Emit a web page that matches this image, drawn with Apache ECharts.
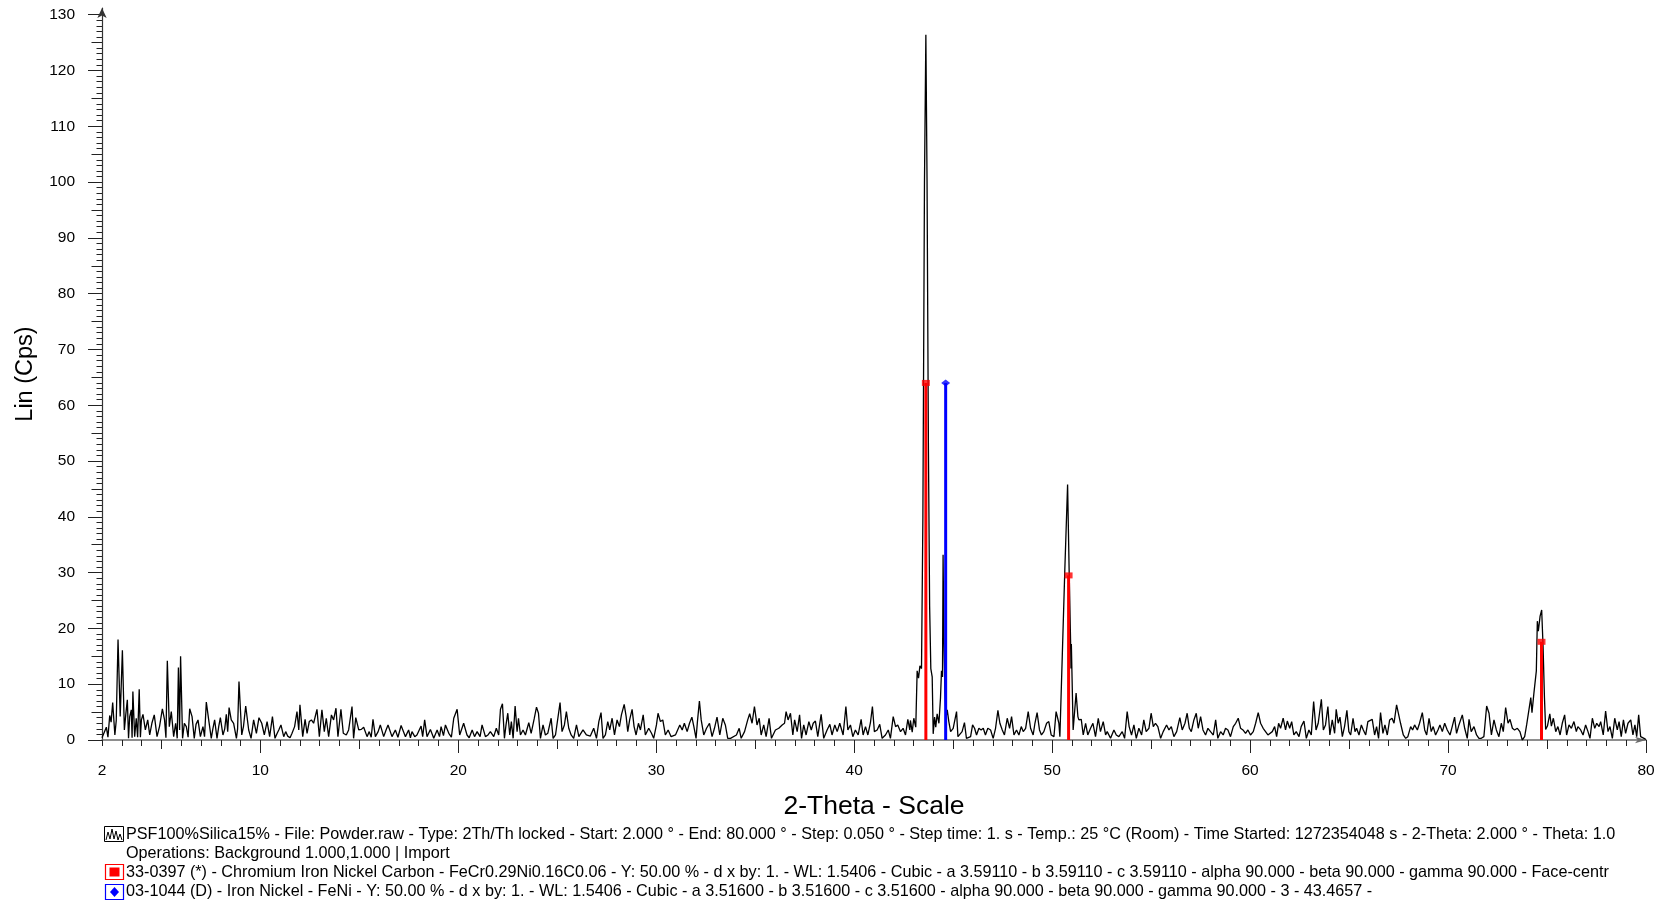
<!DOCTYPE html>
<html>
<head>
<meta charset="utf-8">
<script src="https://cdn.jsdelivr.net/npm/echarts@6/dist/echarts.min.js"></script>
<style>
    html, body, #main {
        width: 100%;
        height: 100%;
        margin: 0;
        background: #fff;
    }
</style>
</head>
<body>
<div id="main"></div>
<script>
var scanLowAngle = [
    [2.0,0.4],[2.1,0.2],[2.22,2.3],[2.3,0.5],[2.39,4.4],[2.46,3.2],[2.54,6.7],[2.65,0.9],[2.72,3.5],[2.81,18.0],
    [2.92,4.2],[3.03,16.1],[3.13,1.8],[3.2,4.5],[3.28,7.2],[3.34,0.3],[3.40,4.2],[3.48,5.4],[3.52,0.4],[3.56,8.7],
    [3.65,0.6],[3.73,3.9],[3.8,0.5],[3.88,9.1],[3.94,0.5],[3.99,3.6],[4.07,4.6],[4.19,1.8],[4.31,3.6],[4.41,0.9],
    [4.52,3.0],[4.64,4.5],[4.78,0.6],[4.91,2.5],[5.05,5.6],[5.16,3.6],[5.23,0.4],[5.30,14.2],[5.40,2.4],[5.50,5.1],
    [5.62,0.6],[5.72,3.0],[5.8,0.3],[5.86,13.0],[5.92,1.8],[5.97,15.0],[6.07,0.3],[6.16,3.0],[6.26,2.4],[6.35,0.5],
    [6.43,5.6],[6.55,4.2],[6.66,0.3],[6.75,2.8],[6.85,3.6],[6.97,0.6],[7.1,2.4],[7.18,0.6],[7.27,6.8],[7.39,3.6],
    [7.52,0.3],[7.6,2.0],[7.69,3.6],[7.81,0.3],[7.9,2.5],[7.98,4.0],[8.11,0.9],[8.2,2.0],[8.28,4.6],[8.35,1.5],
    [8.42,5.8],[8.53,3.6],[8.65,3.0],[8.79,0.3],[8.85,2.0],[8.92,10.5],[9.06,0.9],[9.15,2.5],[9.26,6.1],[9.41,1.8],
    [9.53,0.3],[9.66,3.6],[9.80,1.2],[9.93,4.0],[10.07,3.0],[10.20,0.9],[10.34,3.3],[10.47,0.6],[10.61,4.2],[10.74,0.3],
    [10.85,1.2],[10.93,1.8],[11.04,2.7],[11.18,0.6],[11.28,1.5],[11.38,0.7],[11.5,0.4],[11.6,1.2],[11.73,2.4],[11.85,5.1],
    [11.94,1.8],[12.0,6.3],[12.14,0.6],[12.26,3.7],[12.36,1.2],[12.47,3.3],[12.58,3.6],[12.69,3.0],[12.86,5.5],[12.98,0.6],
    [13.11,5.4],[13.23,1.5],[13.33,3.9],[13.45,0.6],[13.59,4.5],[13.70,3.6],[13.82,5.7],[13.92,0.6],[14.07,5.5],[14.19,1.2],
    [14.34,0.9],[14.46,1.8],[14.63,6.0],[14.71,0.3],[14.82,4.0],[14.97,1.8],[15.1,1.9],[15.22,2.3],[15.39,0.6],[15.5,1.5],
    [15.6,0.5],[15.69,3.7],[15.81,0.6],[15.95,1.5],[16.06,2.7],[16.23,0.6],[16.35,1.8],[16.45,2.7],[16.65,0.6],[16.82,1.8],
    [16.95,0.5],[17.11,2.6],[17.33,0.6],[17.49,1.8],[17.58,0.4],[17.66,1.5],[17.8,0.6],[17.91,0.9],[18.12,2.5],[18.2,0.6],
    [18.3,3.6],[18.42,0.6],[18.59,1.9],[18.76,0.3],[18.93,1.8],[19.05,0.6],[19.13,2.4],[19.25,0.8],[19.35,2.7],[19.52,1.2],
    [19.65,0.5],[19.77,3.9],[19.94,5.5],[20.07,0.9],[20.27,3.0],[20.44,0.9],[20.55,0.4],[20.7,1.8],[20.82,0.6],[20.95,1.5],
    [21.1,0.6],[21.2,2.7],[21.37,0.6],[21.5,0.9],[21.62,1.5]
];
var scanMid = [
    [21.79,0.6],[21.92,2.1],[22.04,0.9],[22.13,5.5],[22.23,6.5],[22.33,0.3],[22.41,2.7],[22.5,4.8],[22.6,0.9],[22.68,3.3],
    [22.77,0.3],[22.87,6.1],[22.97,1.5],[23.04,3.9],[23.14,0.9],[23.27,1.8],[23.39,0.9],[23.56,3.1],[23.68,1.2],[23.84,3.9],
    [23.95,5.9],[24.05,4.8],[24.15,0.3],[24.28,2.7],[24.4,0.9],[24.52,1.2],[24.69,3.9],[24.79,0.3],[24.91,0.9],[25.14,6.7],
    [25.24,1.5],[25.36,2.7],[25.46,5.1],[25.58,2.1],[25.7,0.9],[25.83,0.3],[25.97,2.7],[26.09,0.6],[26.3,1.8],[26.47,0.9],
    [26.67,0.7],[26.84,2.1],[26.98,0.3],[27.1,3.3],[27.21,4.9],[27.31,0.3],[27.43,0.9],[27.55,3.3],[27.65,1.8],[27.77,3.9],
    [27.89,0.9],[28.02,3.6],[28.14,2.4],[28.24,4.5],[28.38,6.4],[28.48,4.2],[28.56,1.5],[28.66,3.7],[28.78,5.5],[28.88,2.4],
    [28.98,0.9],[29.1,3.0],[29.2,1.8],[29.34,4.5],[29.45,0.9],[29.62,2.1],[29.76,1.2],[29.87,0.3],[30.01,2.7],[30.09,4.8],
    [30.21,3.3],[30.33,3.6],[30.46,0.9],[30.6,1.8],[30.75,0.6],[30.97,0.9],[31.19,2.7],[31.31,1.8],[31.42,3.0],[31.56,1.5],
    [31.68,3.0],[31.8,4.1],[31.9,2.4],[32.01,0.3],[32.08,3.3],[32.18,7.0],[32.27,3.6],[32.4,0.9],[32.54,2.1],[32.69,3.0],
    [32.82,0.6],[32.94,2.1],[33.07,4.1],[33.21,0.9],[33.36,3.9],[33.49,2.7],[33.61,0.3],[33.75,0.3],[34.05,0.9],[34.19,2.1],
    [34.29,0.3],[34.46,1.5],[34.62,3.6],[34.72,4.7],[34.84,3.0],[34.96,6.0],[35.09,2.7],[35.2,3.9],[35.3,0.9],[35.43,2.7],
    [35.55,0.6],[35.7,3.9],[35.82,0.3],[36.02,1.8],[36.19,2.1],[36.36,2.7],[36.48,3.0],[36.56,5.1],[36.66,3.6],[36.78,4.8],
    [36.9,0.9],[36.99,3.6],[37.12,1.5],[37.24,4.5],[37.34,0.3],[37.45,2.7],[37.57,0.9],[37.71,3.3],[37.83,1.8],[37.93,3.0],
    [38.04,3.4],[38.16,0.6],[38.33,4.6],[38.46,0.3],[38.63,1.8],[38.77,2.8],[38.88,0.9],[39.02,2.7],[39.14,1.5],[39.27,3.0],
    [39.44,0.9],[39.58,6.0],[39.68,1.8],[39.81,2.7],[39.93,0.6],[40.06,1.8],[40.2,0.9],[40.35,3.7],[40.45,0.9],[40.57,2.4],
    [40.69,0.9],[40.82,3.1],[40.92,6.0],[41.02,1.5],[41.16,1.8],[41.29,2.8],[41.41,0.3],[41.58,0.9],[41.72,1.8],[41.83,0.3],
    [41.97,4.2],[42.09,2.4],[42.2,2.7],[42.34,1.5],[42.47,2.1],[42.59,0.9],[42.71,3.7],[42.81,1.8]
];
var scanMainPeak = [
    [42.84,3.5],[42.93,1.4],[43.01,3.9],[43.11,2.3],[43.18,12.4],[43.25,11.1],[43.32,13.3],[43.4,12.8],[43.47,40],[43.55,100],
    [43.62,126.4],[43.68,100],[43.75,52],[43.81,24],[43.87,12.8],[43.94,11.3],[43.99,1.1],[44.06,4.1],[44.12,2.3],[44.19,4.7],
    [44.28,3.0],[44.36,7.6],[44.41,12.4],[44.46,11.3],[44.49,33.2],[44.53,18],[44.58,9],[44.64,4],[44.7,5.4]
];
var scanBetween = [
    [44.78,3.3],[44.87,1.5],[45.0,2.1],[45.17,5.1],[45.24,0.6],[45.34,0.9],[45.45,1.5],[45.57,3.1],[45.67,0.3],[45.88,0.6],
    [45.98,2.7],[46.08,2.1],[46.18,0.9],[46.3,2.1],[46.41,1.8],[46.52,2.1],[46.63,0.9],[46.75,2.1],[46.89,1.8],[47.02,0.3],
    [47.14,2.1],[47.26,5.3],[47.36,3.0],[47.48,1.8],[47.59,0.9],[47.73,3.9],[47.85,2.1],[47.95,4.2],[48.07,0.9],[48.2,1.8],
    [48.32,0.9],[48.44,2.4],[48.54,1.5],[48.66,2.1],[48.79,5.1],[48.91,2.1],[49.04,0.9],[49.13,3.0],[49.24,4.9],[49.36,1.8],
    [49.46,0.9],[49.58,1.5],[49.72,3.0],[49.83,3.3],[49.95,0.9],[50.09,0.6]
];
var scanSecondPeak = [
    [50.2,5.1],[50.34,3.0],[50.39,0.6],[50.51,14.9],[50.64,30.5],[50.78,45.8],[50.86,30],[50.93,17.9],[50.95,12.8],[50.97,17.2],
    [51.06,1.8],[51.21,8.4],[51.3,4.2],[51.35,3.6]
];
var scanHigh = [
    [51.47,3.7],[51.57,0.9],[51.69,3.0],[51.8,0.9],[51.94,2.1],[52.06,3.0],[52.19,0.6],[52.33,3.9],[52.44,1.5],[52.58,3.3],
    [52.7,0.9],[52.78,1.5],[52.95,0.3],[53.12,1.8],[53.24,0.9],[53.37,0.6],[53.54,1.5],[53.66,0.3],[53.79,5.1],[53.89,2.4],
    [54.01,0.9],[54.13,2.7],[54.25,0.3],[54.38,2.1],[54.52,0.9],[54.63,3.6],[54.75,1.5],[54.89,2.1],[55.0,4.8],[55.11,2.4],
    [55.22,3.0],[55.34,2.4],[55.48,0.3],[55.61,1.5],[55.78,2.7],[55.9,1.8],[56.02,2.4],[56.15,0.6],[56.29,1.5],[56.45,4.0],
    [56.57,1.8],[56.71,3.0],[56.82,4.8],[56.93,2.1],[57.03,1.5],[57.16,3.6],[57.28,4.8],[57.38,2.1],[57.5,4.2],[57.62,1.8],
    [57.75,0.9],[57.87,2.1],[58.0,1.5],[58.14,0.9],[58.26,3.6],[58.37,0.3],[58.51,1.5],[58.64,0.9],[58.76,2.1],[58.88,1.8],
    [59.01,0.6],[59.15,2.4],[59.27,3.0],[59.4,3.9],[59.52,2.1],[59.64,1.8],[59.77,1.2],[59.89,1.8],[60.02,0.9],[60.16,1.5],
    [60.28,3.0],[60.41,4.9],[60.53,3.0],[60.66,2.1],[60.78,1.5],[60.9,0.9],[61.12,1.5],[61.24,2.4],[61.34,0.6],[61.44,3.0],
    [61.54,2.1],[61.67,3.9],[61.79,1.8],[61.88,3.4],[62.0,2.1],[62.1,3.3],[62.21,0.9],[62.33,1.5],[62.47,0.6],[62.58,2.4],
    [62.72,3.4],[62.84,0.3],[62.97,1.8],[63.09,0.9],[63.21,6.9],[63.33,1.8],[63.44,3.0],[63.6,7.3],[63.7,1.8],[63.81,2.7],
    [63.93,6.0],[64.03,0.9],[64.15,3.6],[64.27,1.2],[64.35,5.5],[64.45,3.0],[64.54,4.1],[64.66,0.6],[64.77,2.4],[64.89,5.3],
    [64.99,1.5],[65.08,0.9],[65.2,3.9],[65.3,1.5],[65.38,2.1],[65.5,0.9],[65.62,2.7],[65.72,1.8],[65.84,0.9],[65.95,3.3],
    [66.05,3.6],[66.17,3.7],[66.29,0.9],[66.39,2.4],[66.49,0.3],[66.59,4.9],[66.71,1.2],[66.81,2.7],[66.93,0.9],[67.05,3.6],
    [67.17,3.9],[67.27,3.0],[67.4,6.3],[67.49,6.0],[67.6,3.0],[67.74,0.9],[67.86,0.3],[67.97,0.6],[68.11,2.4],[68.21,1.8],
    [68.31,2.7],[68.45,1.8],[68.56,3.0],[68.7,4.9],[68.82,1.8],[68.92,0.9],[69.04,3.9],[69.15,1.5],[69.25,2.4],[69.37,0.9],
    [69.49,1.8],[69.59,2.7],[69.71,1.5],[69.83,3.0],[69.96,1.8],[70.1,0.9],[70.21,2.4],[70.33,4.1],[70.43,1.2],[70.55,2.7],
    [70.72,4.5],[70.84,2.1],[70.97,0.3],[71.06,3.7],[71.17,1.5],[71.31,2.4],[71.44,0.9],[71.56,0.3],[71.68,0.3],[71.81,0.6],
    [71.95,6.1],[72.07,4.8],[72.19,0.9],[72.32,3.6],[72.44,1.8],[72.57,0.6],[72.69,3.0],[72.79,1.5],[72.91,5.8],[73.03,3.0],
    [73.13,3.7],[73.25,2.1],[73.36,1.8],[73.5,2.1],[73.63,1.5],[73.75,0],[73.87,0.6]
];
var scanThirdPeak = [
    [73.97,2.7],[74.04,2.5],[74.18,7.6],[74.24,4.9],[74.34,8.5],[74.46,12.4],[74.51,21.3],[74.56,19.5],[74.65,22.2],[74.73,23.3],
    [74.8,16.8],[74.87,7.6],[74.93,1.9],[75.02,2.5],[75.14,4.7],[75.22,2.5]
];
var scanTail = [
    [75.32,3.9],[75.44,1.5],[75.55,2.4],[75.66,0.9],[75.77,3.0],[75.89,4.5],[75.99,0.9],[76.11,2.7],[76.23,2.1],[76.36,3.3],
    [76.48,1.5],[76.56,2.4],[76.7,1.8],[76.82,0.9],[76.95,2.7],[77.07,1.5],[77.17,0.3],[77.29,3.9],[77.41,2.1],[77.51,3.0],
    [77.63,2.4],[77.71,3.3],[77.84,0.9],[77.96,5.2],[78.08,1.5],[78.18,2.4],[78.3,0.3],[78.42,3.9],[78.55,1.8],[78.64,3.3],
    [78.75,0.6],[78.86,3.6],[78.97,1.2],[79.09,3.0],[79.23,3.6],[79.34,0.9],[79.44,2.7],[79.53,0.6],[79.63,4.5],[79.73,0.6],
    [79.9,0.3],[80.0,0.1]
];

// reference patterns (stick position, height)
var fecrniSticks = [[43.62, 64], [50.83, 29.5], [74.72, 17.6]];
var feniSticks = [[44.62, 64]];

var xLabelValues = [2, 10, 20, 30, 40, 50, 60, 70, 80];
var yLabelValues = [0, 10, 20, 30, 40, 50, 60, 70, 80, 90, 100, 110, 120, 130];

var legendLines = [
    'PSF100%Silica15% - File: Powder.raw - Type: 2Th/Th locked - Start: 2.000 \u00b0 - End: 80.000 \u00b0 - Step: 0.050 \u00b0 - Step time: 1. s - Temp.: 25 \u00b0C (Room) - Time Started: 1272354048 s - 2-Theta: 2.000 \u00b0 - Theta: 1.0',
    'Operations: Background 1.000,1.000 | Import',
    '33-0397 (*) - Chromium Iron Nickel Carbon - FeCr0.29Ni0.16C0.06 - Y: 50.00 % - d x by: 1. - WL: 1.5406 - Cubic - a 3.59110 - b 3.59110 - c 3.59110 - alpha 90.000 - beta 90.000 - gamma 90.000 - Face-centr',
    '03-1044 (D) - Iron Nickel - FeNi - Y: 50.00 % - d x by: 1. - WL: 1.5406 - Cubic - a 3.51600 - b 3.51600 - c 3.51600 - alpha 90.000 - beta 90.000 - gamma 90.000 - 3 - 43.4657 -'
];

var FONT = '"Liberation Sans", Arial, sans-serif';
var LEGEND_FONT = '16.2px ' + FONT;

function steps(from, to, step) {
    var out = [];
    for (var v = from; v <= to + 1e-9; v += step) {
        out.push(+v.toFixed(3));
    }
    return out;
}

var scan = [].concat(scanLowAngle, scanMid, scanMainPeak, scanBetween,
    scanSecondPeak, scanHigh, scanThirdPeak, scanTail);

var sticks = fecrniSticks.map(function (s) {
    return {value: s, itemStyle: {color: '#ff0000'}};
}).concat(feniSticks.map(function (s) {
    return {value: s, itemStyle: {color: '#0000ff'}};
}));

function xLayer(ticks, len, main) {
    return {
        type: 'value',
        min: 2,
        max: 80,
        position: 'bottom',
        splitLine: {show: false},
        axisLine: main ? {
            show: true,
            onZero: false,
            symbol: ['none', 'arrow'],
            symbolSize: [5, 11],
            lineStyle: {color: '#6a6a6a', width: 1.5}
        } : {show: false, onZero: false},
        axisTick: {show: true, customValues: ticks, length: len, lineStyle: {color: '#222', width: 1}},
        axisLabel: {show: false}
    };
}

function yLayer(ticks, len, main) {
    return {
        type: 'value',
        min: 0,
        max: 131.2,
        position: 'left',
        splitLine: {show: false},
        axisLine: main ? {
            show: true,
            onZero: false,
            symbol: ['none', 'arrow'],
            symbolSize: [7, 10],
            lineStyle: {color: '#333', width: 1.2}
        } : {show: false, onZero: false},
        axisTick: {show: true, customValues: ticks, length: len, lineStyle: {color: '#222', width: 1}},
        axisLabel: {show: false}
    };
}

var xMajor = xLayer(steps(10, 80, 10), 13, false);
xMajor.axisLabel = {
    show: true, customValues: xLabelValues, margin: 23,
    fontSize: 15.5, fontFamily: FONT, color: '#000'
};
xMajor.name = '2-Theta - Scale';
xMajor.nameLocation = 'middle';
xMajor.nameGap = 53;
xMajor.nameTextStyle = {fontSize: 26.5, fontFamily: FONT, color: '#000'};

var yMajor = yLayer(steps(0, 130, 10), 14, false);
yMajor.axisLabel = {
    show: true, customValues: yLabelValues, margin: 27,
    fontSize: 15.5, fontFamily: FONT, color: '#000'
};
yMajor.name = 'Lin (Cps)';
yMajor.nameLocation = 'middle';
yMajor.nameRotate = 90;
yMajor.nameGap = 64;
yMajor.nameTextStyle = {fontSize: 23.5, fontFamily: FONT, color: '#000'};

var chart = echarts.init(document.getElementById('main'));

chart.setOption({
    animation: false,
    backgroundColor: '#fff',
    grid: {
        left: 102,
        right: 11,
        top: 8,
        bottom: 164,
        outerBoundsMode: 'none'
    },
    xAxis: [
        xLayer(steps(2, 80, 1), 6, true),
        xLayer(steps(5, 75, 10), 9, false),
        xMajor
    ],
    yAxis: [
        yLayer(steps(0, 130, 1), 5.5, true),
        yLayer(steps(5, 125, 10), 10.5, false),
        yMajor
    ],
    graphic: [
        {type: 'rect', shape: {x: 104.5, y: 826.5, width: 19, height: 15}, style: {fill: 'none', stroke: '#000', lineWidth: 1}},
        {type: 'polyline', shape: {points: [[106, 840], [108, 832], [110, 839], [112, 829], [114, 839], [116, 831], [118, 840], [120, 834], [122, 840]]},
            style: {fill: null, stroke: '#000', lineWidth: 1}},
        {type: 'rect', shape: {x: 105.5, y: 864.5, width: 18, height: 15}, style: {fill: 'none', stroke: '#ff0000', lineWidth: 1.2}},
        {type: 'rect', shape: {x: 109.5, y: 867.5, width: 10, height: 9}, style: {fill: '#ff0000'}},
        {type: 'rect', shape: {x: 105.5, y: 884.5, width: 18, height: 15}, style: {fill: 'none', stroke: '#0000ff', lineWidth: 1.2}},
        {type: 'polygon', shape: {points: [[114.5, 887], [119, 892], [114.5, 897], [110, 892]]}, style: {fill: '#0000ff'}},
        {type: 'text', x: 126, y: 835, style: {text: legendLines[0], font: LEGEND_FONT, fill: '#000', verticalAlign: 'middle'}},
        {type: 'text', x: 126, y: 854, style: {text: legendLines[1], font: LEGEND_FONT, fill: '#000', verticalAlign: 'middle'}},
        {type: 'text', x: 126, y: 873, style: {text: legendLines[2], font: LEGEND_FONT, fill: '#000', verticalAlign: 'middle'}},
        {type: 'text', x: 126, y: 892, style: {text: legendLines[3], font: LEGEND_FONT, fill: '#000', verticalAlign: 'middle'}}
    ],
    series: [{
        name: 'PSF100%Silica15%',
        type: 'line',
        data: scan,
        symbol: 'none',
        showSymbol: false,
        sampling: null,
        lineStyle: {color: '#000', width: 1.3},
        z: 2
    }, {
        name: 'sticks',
        type: 'bar',
        data: sticks,
        barWidth: 3,
        z: 3
    }, {
        name: '33-0397',
        type: 'scatter',
        data: fecrniSticks,
        symbol: 'rect',
        symbolSize: [8, 6],
        itemStyle: {color: '#ff0000'},
        z: 4
    }, {
        name: '03-1044',
        type: 'scatter',
        data: feniSticks,
        symbol: 'diamond',
        symbolSize: [9, 7],
        itemStyle: {color: '#0000ff'},
        z: 4
    }]
});
</script>
</body>
</html>
